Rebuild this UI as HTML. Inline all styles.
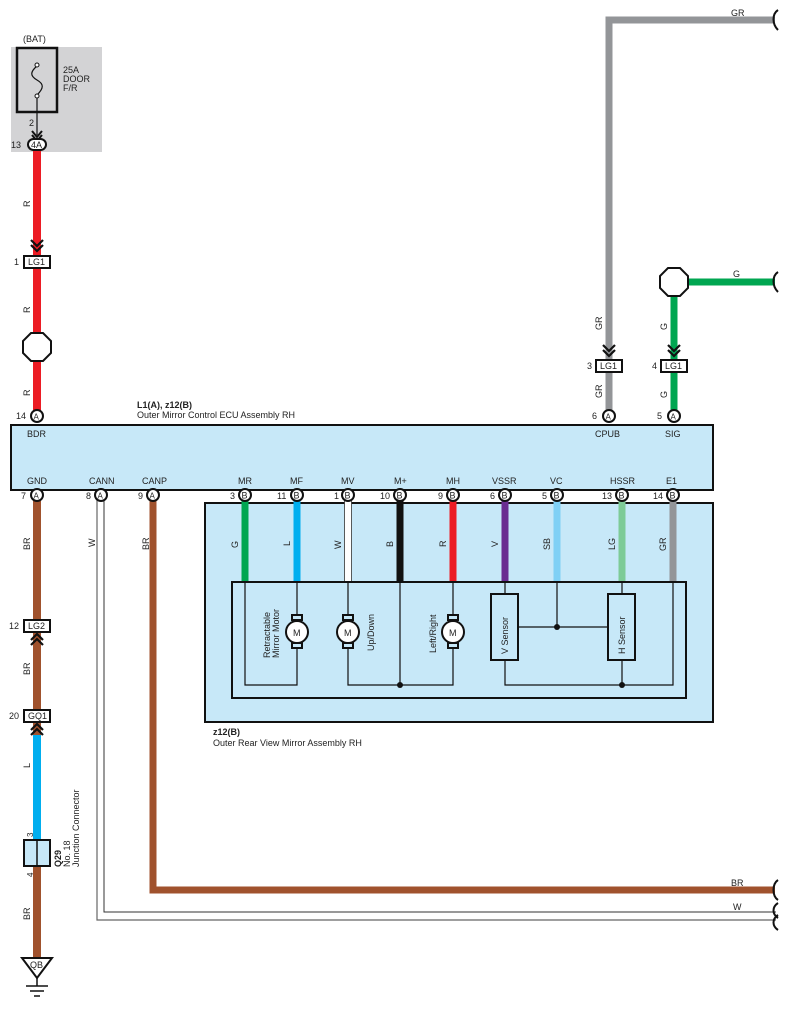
<!DOCTYPE html>
<html><head><meta charset="utf-8"><style>
html,body{margin:0;padding:0;background:#fff;}
svg{display:block;font-family:"Liberation Sans",sans-serif;}
text{font-size:9px;fill:#222;}
</style></head><body>
<svg width="790" height="1011" viewBox="0 0 790 1011" xmlns="http://www.w3.org/2000/svg">
<!-- BAT area -->
<rect x="11" y="47" width="91" height="105" fill="#d3d3d5"/>
<text x="23" y="42">(BAT)</text>
<rect x="17" y="48" width="40" height="64" fill="none" stroke="#111" stroke-width="2.5"/>
<path d="M37 66 C30 72,30 76,37 80 C44 84,44 88,37 95" fill="none" stroke="#111" stroke-width="1.2"/>
<circle cx="37" cy="65" r="2" fill="#fff" stroke="#111"/>
<circle cx="37" cy="96" r="2" fill="#fff" stroke="#111"/>
<line x1="37" y1="98" x2="37" y2="135" stroke="#111" stroke-width="1.2"/>
<path d="M32 131 L37 137 L42 131 M32 135 L37 141 L42 135" fill="none" stroke="#111" stroke-width="2"/>
<text x="63" y="73">25A</text><text x="63" y="82">DOOR</text><text x="63" y="91">F/R</text>
<text x="29" y="126">2</text>
<!-- red wire -->
<rect x="33" y="150" width="8" height="262" fill="#ec1c24"/>
<rect x="28" y="139" width="18" height="11" rx="5.5" fill="#fff" stroke="#111" stroke-width="2"/>
<text x="31" y="148">4A</text><text x="11" y="148">13</text>
<text transform="translate(30,207) rotate(-90)">R</text>
<path d="M31 240 L37 246 L43 240 M31 245 L37 251 L43 245" fill="none" stroke="#111" stroke-width="2.2"/>
<rect x="24" y="256" width="26" height="12" fill="#fff" stroke="#111" stroke-width="2"/>
<text x="28" y="265">LG1</text><text x="14" y="265">1</text>
<text transform="translate(30,313) rotate(-90)">R</text>
<polygon points="31,333 43,333 51,341 51,353 43,361 31,361 23,353 23,341" fill="#fff" stroke="#111" stroke-width="2"/>
<text transform="translate(30,396) rotate(-90)">R</text>
<circle cx="37" cy="416" r="6" fill="#fff" stroke="#111" stroke-width="2"/>
<text x="33.5" y="419.5" style="font-size:8px">A</text><text x="16" y="419">14</text>
<!-- ECU -->
<text x="137" y="408" style="font-weight:bold">L1(A), z12(B)</text>
<text x="137" y="418">Outer Mirror Control ECU Assembly RH</text>
<rect x="11" y="425" width="702" height="65" fill="#c7e8f8" stroke="#111" stroke-width="2"/>
<text x="27" y="437">BDR</text>
<text x="595" y="437">CPUB</text><text x="665" y="437">SIG</text>
<text x="27" y="484">GND</text><text x="89" y="484">CANN</text><text x="142" y="484">CANP</text>
<text x="238" y="484">MR</text><text x="290" y="484">MF</text><text x="341" y="484">MV</text><text x="394" y="484">M+</text><text x="446" y="484">MH</text><text x="492" y="484">VSSR</text><text x="550" y="484">VC</text><text x="610" y="484">HSSR</text><text x="666" y="484">E1</text>
<!-- top right wires -->
<path d="M609 412 L609 20 L775 20" fill="none" stroke="#939598" stroke-width="7"/>
<text x="731" y="16">GR</text>
<path d="M778 10 C772 14,772 24,778 30" fill="none" stroke="#111" stroke-width="2"/>
<text transform="translate(602,330) rotate(-90)">GR</text>
<text transform="translate(602,398) rotate(-90)">GR</text>
<path d="M674 412 L674 282 L775 282" fill="none" stroke="#00a651" stroke-width="7"/>
<polygon points="668,268 680,268 688,276 688,288 680,296 668,296 660,288 660,276" fill="#fff" stroke="#111" stroke-width="2"/>
<text x="733" y="277">G</text>
<path d="M778 272 C772 276,772 286,778 292" fill="none" stroke="#111" stroke-width="2"/>
<text transform="translate(667,330) rotate(-90)">G</text>
<text transform="translate(667,398) rotate(-90)">G</text>
<path d="M603 345 L609 351 L615 345 M603 350 L609 356 L615 350" fill="none" stroke="#111" stroke-width="2.2"/>
<path d="M668 345 L674 351 L680 345 M668 350 L674 356 L680 350" fill="none" stroke="#111" stroke-width="2.2"/>
<rect x="596" y="360" width="26" height="12" fill="#fff" stroke="#111" stroke-width="2"/><text x="600" y="369">LG1</text><text x="587" y="369">3</text>
<rect x="661" y="360" width="26" height="12" fill="#fff" stroke="#111" stroke-width="2"/><text x="665" y="369">LG1</text><text x="652" y="369">4</text>
<circle cx="609" cy="416" r="6" fill="#fff" stroke="#111" stroke-width="2"/><text x="605.5" y="419.5" style="font-size:8px">A</text><text x="592" y="419">6</text>
<circle cx="674" cy="416" r="6" fill="#fff" stroke="#111" stroke-width="2"/><text x="670.5" y="419.5" style="font-size:8px">A</text><text x="657" y="419">5</text>
<!-- mirror assembly -->
<rect x="205" y="503" width="508" height="219" fill="#c7e8f8" stroke="#111" stroke-width="2"/>
<text x="213" y="735" style="font-weight:bold">z12(B)</text>
<text x="213" y="746">Outer Rear View Mirror Assembly RH</text>
<rect x="245" y="500" width="0" height="0"/>
<g stroke-width="7">
<line x1="245" y1="501" x2="245" y2="582" stroke="#00a651"/>
<line x1="297" y1="501" x2="297" y2="582" stroke="#00aeef"/>
<line x1="348" y1="501" x2="348" y2="582" stroke="#fff"/>
<line x1="400" y1="501" x2="400" y2="582" stroke="#111"/>
<line x1="453" y1="501" x2="453" y2="582" stroke="#ec1c24"/>
<line x1="505" y1="501" x2="505" y2="582" stroke="#6a2c91"/>
<line x1="557" y1="501" x2="557" y2="582" stroke="#7fd0f5"/>
<line x1="622" y1="501" x2="622" y2="582" stroke="#7dcb97"/>
<line x1="673" y1="501" x2="673" y2="582" stroke="#939598"/>
</g>
<line x1="344.5" y1="501" x2="344.5" y2="582" stroke="#333" stroke-width="0.8"/>
<line x1="351.5" y1="501" x2="351.5" y2="582" stroke="#333" stroke-width="0.8"/>
<text transform="translate(238,548) rotate(-90)">G</text>
<text transform="translate(290,546) rotate(-90)">L</text>
<text transform="translate(341,549) rotate(-90)">W</text>
<text transform="translate(393,547) rotate(-90)">B</text>
<text transform="translate(446,547) rotate(-90)">R</text>
<text transform="translate(498,547) rotate(-90)">V</text>
<text transform="translate(550,550) rotate(-90)">SB</text>
<text transform="translate(615,550) rotate(-90)">LG</text>
<text transform="translate(666,551) rotate(-90)">GR</text>
<rect x="232" y="582" width="454" height="116" fill="none" stroke="#111" stroke-width="2"/>
<g fill="none" stroke="#111" stroke-width="1.2">
<path d="M245 582 V685 H297 V582"/>
<path d="M348 582 V685 H453 V582"/>
<path d="M400 582 V685"/>
<path d="M505 582 V593 M518 627 H608 M557 582 V627 M622 582 V593"/>
<path d="M505 660 V685 H673 V582 M622 660 V685"/>
</g>
<g fill="#c7e8f8" stroke="#111" stroke-width="2">
<rect x="491" y="594" width="27" height="66"/><rect x="608" y="594" width="27" height="66"/>
</g>
<text transform="translate(508,654) rotate(-90)">V Sensor</text>
<text transform="translate(625,654) rotate(-90)">H Sensor</text>
<g fill="#111"><circle cx="400" cy="685" r="3"/><circle cx="557" cy="627" r="3"/><circle cx="622" cy="685" r="3"/></g>
<!-- motors -->
<g stroke="#111" stroke-width="2" fill="#c7e8f8">
<rect x="292" y="615" width="10" height="5"/><rect x="292" y="643" width="10" height="5"/><circle cx="297" cy="632" r="11" fill="#fff"/>
<rect x="343" y="615" width="10" height="5"/><rect x="343" y="643" width="10" height="5"/><circle cx="348" cy="632" r="11" fill="#fff"/>
<rect x="448" y="615" width="10" height="5"/><rect x="448" y="643" width="10" height="5"/><circle cx="453" cy="632" r="11" fill="#fff"/>
</g>
<text x="293" y="636">M</text><text x="344" y="636">M</text><text x="449" y="636">M</text>
<text transform="translate(270,658) rotate(-90)">Retractable</text>
<text transform="translate(279,658) rotate(-90)">Mirror Motor</text>
<text transform="translate(374,651) rotate(-90)">Up/Down</text>
<text transform="translate(436,653) rotate(-90)">Left/Right</text>
<!-- B pins -->
<g fill="#fff" stroke="#111" stroke-width="2">
<circle cx="245" cy="495" r="6"/><circle cx="297" cy="495" r="6"/><circle cx="348" cy="495" r="6"/><circle cx="400" cy="495" r="6"/><circle cx="453" cy="495" r="6"/><circle cx="505" cy="495" r="6"/><circle cx="557" cy="495" r="6"/><circle cx="622" cy="495" r="6"/><circle cx="673" cy="495" r="6"/>
</g>
<g style="font-size:8px">
<text x="241.5" y="498.5">B</text><text x="293.5" y="498.5">B</text><text x="344.5" y="498.5">B</text><text x="396.5" y="498.5">B</text><text x="449.5" y="498.5">B</text><text x="501.5" y="498.5">B</text><text x="553.5" y="498.5">B</text><text x="618.5" y="498.5">B</text><text x="669.5" y="498.5">B</text>
</g>
<text x="230" y="499">3</text><text x="277" y="499">11</text><text x="334" y="499">1</text><text x="380" y="499">10</text><text x="438" y="499">9</text><text x="490" y="499">6</text><text x="542" y="499">5</text><text x="602" y="499">13</text><text x="653" y="499">14</text>
<!-- left GND wire -->
<rect x="33" y="501" width="8" height="234" fill="#a0522d"/>
<rect x="33" y="735" width="8" height="105" fill="#00aeef"/>
<rect x="33" y="866" width="8" height="92" fill="#a0522d"/>
<text transform="translate(30,550) rotate(-90)">BR</text>
<rect x="24" y="620" width="26" height="12" fill="#fff" stroke="#111" stroke-width="2"/><text x="28" y="629">LG2</text><text x="9" y="629">12</text>
<path d="M31 640 L37 634 L43 640 M31 645 L37 639 L43 645" fill="none" stroke="#111" stroke-width="2.2"/>
<text transform="translate(30,675) rotate(-90)">BR</text>
<rect x="24" y="710" width="26" height="12" fill="#fff" stroke="#111" stroke-width="2"/><text x="28" y="719">GQ1</text><text x="9" y="719">20</text>
<path d="M31 730 L37 724 L43 730 M31 735 L37 729 L43 735" fill="none" stroke="#111" stroke-width="2.2"/>
<text transform="translate(30,768) rotate(-90)">L</text>
<text transform="translate(33,837) rotate(-90)" style="font-size:8px">3</text>
<rect x="24" y="840" width="26" height="26" fill="#c7e8f8" stroke="#111" stroke-width="2"/>
<line x1="37" y1="840" x2="37" y2="866" stroke="#111" stroke-width="1.5"/>
<text transform="translate(33,877) rotate(-90)" style="font-size:8px">4</text>
<text transform="translate(61,867) rotate(-90)" style="font-weight:bold">Q29</text>
<text transform="translate(70,867) rotate(-90)">No. 18</text>
<text transform="translate(79,867) rotate(-90)">Junction Connector</text>
<text transform="translate(30,920) rotate(-90)">BR</text>
<polygon points="22,958 52,958 37,978" fill="#fff" stroke="#111" stroke-width="2"/>
<text x="30" y="968">QB</text>
<g stroke="#111" stroke-width="1.5"><line x1="37" y1="978" x2="37" y2="986"/><line x1="26" y1="986" x2="48" y2="986"/><line x1="30" y1="991" x2="44" y2="991"/><line x1="34" y1="996" x2="40" y2="996"/></g>
<circle cx="37" cy="495" r="6" fill="#fff" stroke="#111" stroke-width="2"/><text x="33.5" y="498.5" style="font-size:8px">A</text><text x="21" y="499">7</text>
<!-- CANN W -->
<path d="M97 500 V920 H776" fill="none" stroke="#666" stroke-width="1.2"/>
<path d="M104 500 V912 H776" fill="none" stroke="#333" stroke-width="1"/>
<text transform="translate(95,547) rotate(-90)">W</text>
<text x="733" y="910">W</text>
<circle cx="101" cy="495" r="6" fill="#fff" stroke="#111" stroke-width="2"/><text x="97.5" y="498.5" style="font-size:8px">A</text><text x="86" y="499">8</text>
<!-- CANP BR -->
<path d="M153 500 V890 H775" fill="none" stroke="#a0522d" stroke-width="7"/>
<text transform="translate(149,550) rotate(-90)">BR</text>
<text x="731" y="886">BR</text>
<circle cx="153" cy="495" r="6" fill="#fff" stroke="#111" stroke-width="2"/><text x="149.5" y="498.5" style="font-size:8px">A</text><text x="138" y="499">9</text>
<g fill="none" stroke="#111" stroke-width="2">
<path d="M778 880 C772 884,772 896,778 900"/>
<path d="M778 903 C772 907,772 914,778 918"/>
<path d="M778 915 C772 919,772 926,778 930"/>
</g>
</svg>
</body></html>
